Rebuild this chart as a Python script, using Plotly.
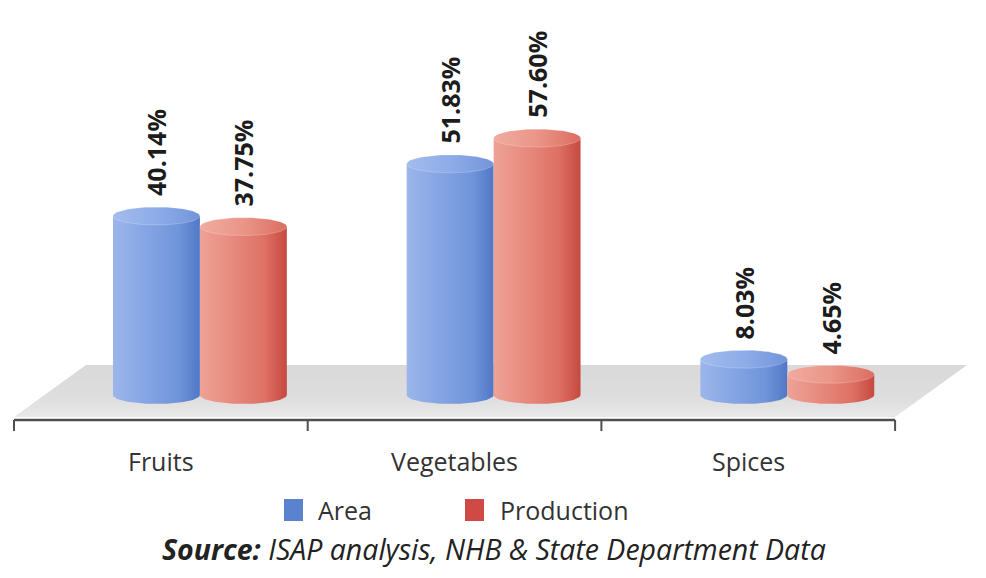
import numpy as np
import plotly.graph_objects as go

# ---- data ----
categories = ["Fruits", "Vegetables", "Spices"]
series_names = ["Area", "Production"]
area_share = [40.14, 51.83, 8.03]
production_share = [37.75, 57.60, 4.65]
source_note = "<b>Source:</b> ISAP analysis, NHB & State Department Data"

# ---- canvas geometry (the plot fills the whole page, axes hidden) ----
W, H = 986, 578
PX_PER_X = 293.7          # pixels per category slot
PX_PER_Y = 4.46           # pixels per percentage point
X_LEFT_PX = 14            # pixel of x = -0.5
ZERO_PX = 395             # pixel row of the value 0 (cylinder bases)
AXIS_PX = 420             # pixel row of the category axis line

xmin = -0.5 - X_LEFT_PX / PX_PER_X
xmax = xmin + W / PX_PER_X
ymax = ZERO_PX / PX_PER_Y
ymin = ymax - H / PX_PER_Y


def px_to_paper_x(px):
    return px / W


def px_to_paper_y(py):
    return 1 - py / H


def px_to_data_y(py):
    return ymax - py / PX_PER_Y


# cylinder layout in category units
radius_x = 0.148          # half the cylinder width
radius_y = 9 / PX_PER_Y   # half-height of the ellipses
depth_shift = 0.133       # group pushed back onto the floor
offsets = [-radius_x, radius_x]

palettes = {
    "Area": {
        "body": [[0, "#9cb6ea"], [0.3, "#8aa8e5"], [0.75, "#7095da"], [1, "#5178c6"]],
        "top": [[0, "#a3bced"], [0.5, "#8eace8"], [1, "#7295da"]],
        "legend": "#5a82cf",
    },
    "Production": {
        "body": [[0, "#eea296"], [0.3, "#e98f83"], [0.75, "#de7064"], [1, "#c6493f"]],
        "top": [[0, "#f1ab9f"], [0.5, "#ea9588"], [1, "#db6d61"]],
        "legend": "#cf4a44",
    },
}

fig = go.Figure()

# ---- floor (skewed plane under the cylinders) ----
floor_front = px_to_data_y(417)
floor_back = px_to_data_y(365)
floor_x = [-0.5, 2.5, 2.5 + 72 / PX_PER_X, -0.5 + 72 / PX_PER_X, -0.5]
floor_y = [floor_front, floor_front, floor_back, floor_back, floor_front]
fig.add_trace(go.Scatter(
    x=floor_x, y=floor_y, mode="lines", fill="toself",
    line=dict(width=0, color="rgba(0,0,0,0)"),
    fillgradient=dict(type="vertical",
                      colorscale=[[0, "#e9e9e9"], [0.35, "#dedede"], [1, "#d9d9d9"]]),
    hoverinfo="skip", showlegend=False,
))

theta = np.linspace(0, np.pi, 60)
full = np.linspace(0, 2 * np.pi, 120)

values_by_series = {"Area": area_share, "Production": production_share}
annotations = []

for s_idx, name in enumerate(series_names):
    vals = values_by_series[name]
    pal = palettes[name]
    for c_idx, v in enumerate(vals):
        cx = c_idx + depth_shift + offsets[s_idx]
        # body: straight sides down to the base, front arc of the base ellipse
        bx = [cx - radius_x, cx + radius_x] + list(cx + radius_x * np.cos(theta)) + [cx - radius_x]
        by = [v, v] + list(-radius_y * np.sin(theta)) + [v]
        fig.add_trace(go.Scatter(
            x=bx, y=by, mode="lines", fill="toself",
            line=dict(width=0, color="rgba(0,0,0,0)"),
            fillgradient=dict(type="horizontal", colorscale=pal["body"]),
            hoverinfo="skip", showlegend=False,
        ))
        # top cap
        tx = cx + radius_x * np.cos(full)
        ty = v + radius_y * np.sin(full)
        fig.add_trace(go.Scatter(
            x=tx, y=ty, mode="lines", fill="toself",
            line=dict(width=0.6, color="rgba(255,255,255,0.35)"),
            fillgradient=dict(type="horizontal", colorscale=pal["top"]),
            hoverinfo="skip", showlegend=False,
        ))
        # value label, rotated, above the cap
        annotations.append(dict(
            x=cx, y=v + radius_y, xref="x", yref="y",
            text=f"{v:.2f}%", showarrow=False, textangle=-90,
            xanchor="center", yanchor="bottom", yshift=9,
            font=dict(family="Open Sans", size=25, color="#1c1c1c", weight="bold"),
        ))

# ---- category axis (line, boundary ticks, labels) ----
shapes = []
axis_y = px_to_paper_y(AXIS_PX)
tick_end = px_to_paper_y(AXIS_PX + 11)
shapes.append(dict(type="line", xref="x", yref="paper",
                   x0=-0.5, x1=len(categories) - 0.5, y0=axis_y, y1=axis_y,
                   line=dict(color="#505050", width=2.5)))
for b in np.arange(len(categories) + 1) - 0.5:
    shapes.append(dict(type="line", xref="x", yref="paper",
                       x0=b, x1=b, y0=axis_y, y1=tick_end,
                       line=dict(color="#505050", width=2)))
for i, cat in enumerate(categories):
    annotations.append(dict(
        x=i, y=px_to_paper_y(461), xref="x", yref="paper",
        text=cat, showarrow=False, xanchor="center", yanchor="middle",
        font=dict(family="Open Sans", size=25, color="#333333"),
    ))

# ---- legend ----
legend_items = [(series_names[0], 284, 316), (series_names[1], 465, 498)]
for name, sq_px, txt_px in legend_items:
    shapes.append(dict(type="rect", xref="paper", yref="paper",
                       x0=px_to_paper_x(sq_px), x1=px_to_paper_x(sq_px + 19),
                       y0=px_to_paper_y(521), y1=px_to_paper_y(499),
                       fillcolor=palettes[name]["legend"], line=dict(width=0)))
    annotations.append(dict(
        x=px_to_paper_x(txt_px), y=px_to_paper_y(510), xref="paper", yref="paper",
        text=name, showarrow=False, xanchor="left", yanchor="middle",
        font=dict(family="Open Sans", size=25, color="#333333"),
    ))

# ---- source note ----
annotations.append(dict(
    x=px_to_paper_x(494), y=px_to_paper_y(549), xref="paper", yref="paper",
    text=f"<i>{source_note}</i>", showarrow=False, xanchor="center", yanchor="middle",
    font=dict(family="Open Sans", size=28.5, color="#222222"),
))

fig.update_layout(
    width=W, height=H,
    margin=dict(l=0, r=0, t=0, b=0),
    paper_bgcolor="white", plot_bgcolor="white",
    xaxis=dict(range=[xmin, xmax], visible=False, fixedrange=True),
    yaxis=dict(range=[ymin, ymax], visible=False, fixedrange=True),
    shapes=shapes, annotations=annotations, showlegend=False,
)

fig.write_html("out.html")
